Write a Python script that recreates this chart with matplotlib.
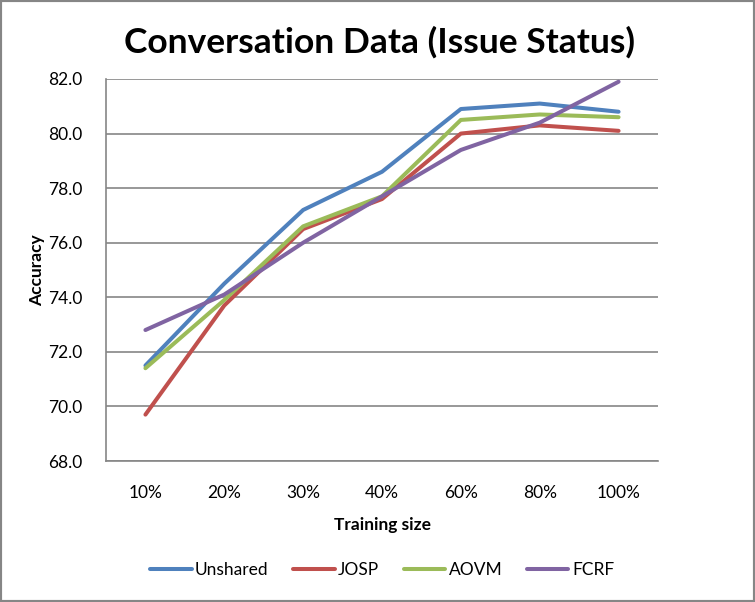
import matplotlib
matplotlib.use('Agg')
import matplotlib.pyplot as plt
from matplotlib.patches import Rectangle

#   data
sizes = ['10%', '20%', '30%', '40%', '60%', '80%', '100%']
unshared = [71.5, 74.5, 77.2, 78.6, 80.9, 81.1, 80.8]
josp = [69.7, 73.7, 76.5, 77.6, 80.0, 80.3, 80.1]
aovm = [71.4, 73.9, 76.6, 77.7, 80.5, 80.7, 80.6]
fcrf = [72.8, 74.1, 76.0, 77.7, 79.4, 80.4, 81.9]
yticks = [68, 70, 72, 74, 76, 78, 80, 82]

series = [('Unshared', unshared, '#4F81BD'),
          ('JOSP', josp, '#C0504D'),
          ('AOVM', aovm, '#9BBB59'),
          ('FCRF', fcrf, '#8064A2')]

plt.rcParams['font.family'] = ['Lato', 'DejaVu Sans']

fig = plt.figure(figsize=(7.55, 6.02), dpi=100)
ax = fig.add_axes([106/755, 1-461/602, 552/755, 382/602])

x = list(range(len(sizes)))
for name, vals, col in series:
    ax.plot(x, vals, color=col, lw=2.9, label=name, solid_capstyle='round')

ax.set_xlim(-0.5, len(sizes)-0.5)
ax.set_ylim(68, 82)
ax.set_yticks(yticks)
ax.set_yticklabels(['%.1f' % v for v in yticks])
ax.set_xticks(x)
ax.set_xticklabels(sizes)
ax.tick_params(length=0, labelsize=12.5, colors='black')
ax.tick_params(axis='y', pad=17)
ax.tick_params(axis='x', pad=17)
ax.yaxis.grid(True, color='#868686', lw=1.2)
ax.set_axisbelow(True)
for s in ['top', 'right']:
    ax.spines[s].set_visible(False)
for s in ['left', 'bottom']:
    ax.spines[s].set_color('#868686')
    ax.spines[s].set_linewidth(1.2)

ax.set_xlabel('Training size', fontsize=12.5, fontweight='bold', labelpad=12)
ax.set_ylabel('Accuracy', fontsize=12.5, fontweight='bold', labelpad=2)

fig.text(0.503, 1-42/602, 'Conversation Data (Issue Status)', ha='center', va='center',
         fontsize=25.5, fontweight='bold')

fig.legend(loc='center', bbox_to_anchor=(382/755, 1-570/602), ncol=4, frameon=False,
           fontsize=12.5, handlelength=2.4, handletextpad=0.2, columnspacing=1.4)

fig.patches.append(Rectangle((0, 0), 1, 1, transform=fig.transFigure, fill=False,
                             edgecolor='#868686', lw=3))

fig.savefig('out.png', dpi=100)
